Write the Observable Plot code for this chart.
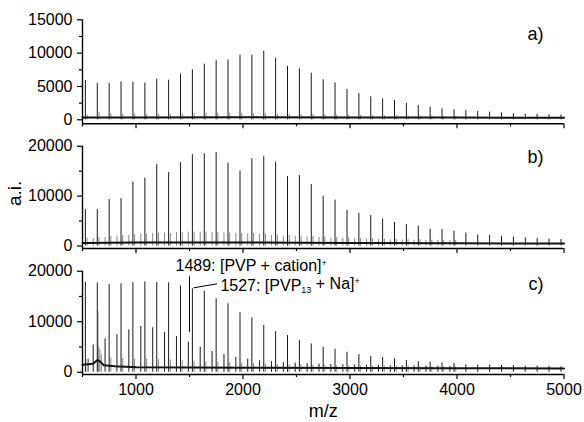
<!DOCTYPE html>
<html><head><meta charset="utf-8">
<script src="https://cdn.jsdelivr.net/npm/d3@7"></script>
<script src="https://cdn.jsdelivr.net/npm/@observablehq/plot@0.6"></script>
<style>
body{margin:0;background:#fff;}
#chart{position:relative;width:584px;height:422px;overflow:hidden;background:#fff;}
#chart svg{position:absolute;left:0;}
</style></head><body><div id="chart"></div>
<script>
// ---- data ----
const mzMain = [527, 638, 749, 860, 971, 1083, 1194, 1305, 1416, 1527, 1638, 1749, 1860, 1972, 2083, 2194, 2305, 2416, 2527, 2638, 2749, 2860, 2972, 3083, 3194, 3305, 3416, 3527, 3638, 3749, 3860, 3972, 4083, 4194, 4305, 4416, 4527, 4638, 4749, 4860, 4972];
const intensityA = [5900, 5450, 5450, 5700, 5650, 5500, 6100, 5950, 6850, 7500, 8350, 8850, 8950, 9700, 9700, 10300, 9200, 8000, 7650, 7000, 6000, 5550, 4550, 3950, 3450, 3150, 2900, 2450, 2150, 1900, 1650, 1500, 1400, 1250, 1150, 1050, 900, 850, 800, 750, 700];
const intensityB = [7300, 7300, 9300, 9500, 12800, 13600, 16300, 14700, 16700, 18300, 18500, 18700, 16600, 15000, 17500, 17900, 16800, 13900, 14100, 12300, 10000, 9200, 7150, 6550, 6100, 5400, 4700, 4300, 4000, 3350, 3300, 2950, 2600, 2200, 2100, 1950, 1800, 1600, 1500, 1350, 1300];
const intensityC = [17800, 17700, 17350, 17500, 17700, 17900, 17750, 17700, 17050, 16500, 16050, 14550, 13550, 11800, 10750, 9250, 8050, 7250, 6300, 5600, 4950, 4550, 3950, 3500, 3150, 2900, 2650, 2300, 2100, 2000, 1800, 1700, 1500, 1450, 1400, 1350, 1300, 1200, 1200, 1150, 1100];

// satellite series (+16)
const satMz = [543, 654, 765, 876, 987, 1099, 1210, 1321, 1432, 1543, 1654, 1765, 1876, 1988, 2099, 2210, 2321, 2432, 2543, 2654, 2765, 2876, 2988, 3099, 3210, 3321, 3432, 3543, 3654, 3765, 3876, 3988];
const satIntA = [700, 1100, 900, 800, 850, 800, 800, 850, 900, 950, 1000, 1000, 950, 950, 900, 900, 850, 800, 800, 800, 750, 700, 700, 650, 600, 600, 600, 550, 550, 550, 500, 500];
const satIntB = [1600, 1700, 1900, 2100, 2300, 2400, 2600, 2500, 2700, 2800, 2800, 2700, 2600, 2500, 2500, 2400, 2200, 2100, 2000, 1900, 1800, 1700, 1600, 1500, 1450, 1400, 1350, 1300, 1250, 1200, 1150, 1100];
const satIntC = [2600, 3000, 2800, 2700, 2600, 2600, 2500, 2400, 2300, 2200, 2100, 2000, 1900, 1800, 1700, 1600, 1550, 1500, 1450, 1400, 1350, 1300, 1300, 1250, 1200, 1200, 1150, 1150, 1100, 1100, 1050, 1050];

// second series (1489: [PVP + cation]+)
const mzSecond = [600, 711, 822, 933, 1045, 1156, 1267, 1378, 1489, 1600, 1711, 1822, 1933, 2044, 2155, 2266, 2377, 2488, 2599, 2710, 2821, 2933, 3044, 3155, 3266, 3377, 3488, 3599, 3710, 3821, 3933];
const secondIntB = [1500, 1700, 2000, 2200, 2400, 2500, 2600, 2700, 2800, 2800, 2700, 2600, 2500, 2400, 2300, 2100, 2000, 1900, 1800, 1700, 1600, 1500, 1450, 1400, 1300, 1250, 1200, 1150, 1100, 1100, 1050];
const secondIntC = [5400, 6600, 7450, 8400, 9050, 8800, 7900, 7050, 5950, 4950, 4100, 3500, 2950, 2600, 2300, 2100, 1900, 1800, 1700, 1600, 1550, 1500, 1450, 1400, 1350, 1300, 1300, 1250, 1200, 1200, 1150];

// extra low-mass peaks in c
const extraMzC = [556, 645, 652, 662, 676];
const extraIntC = [2600, 12000, 5000, 4500, 3500];

// baselines
const baseMzA = [500, 1000, 2000, 3000, 4000, 5000];
const baseIntA = [350, 350, 400, 350, 350, 300];
const baseMzB = [500, 1000, 2000, 3000, 4000, 5000];
const baseIntB = [600, 700, 700, 600, 550, 500];
const baseMzC = [500, 600, 640, 660, 700, 800, 1000, 2000, 3000, 4000, 5000];
const baseIntC = [1500, 1700, 2400, 2200, 1400, 1200, 1000, 900, 850, 800, 750];

// axes
const xDomain = [500, 5000];
const xMajor = [1000, 2000, 3000, 4000, 5000];
const xMinor = [500, 1500, 2500, 3500, 4500];
const yMajorA = [0, 5000, 10000, 15000];
const yMinorA = [2500, 7500, 12500];
const yMajorBC = [0, 10000, 20000];
const yMinorBC = [5000, 15000];
const panelLabels = ["a)", "b)", "c)"];

// annotations in c
const annMz = [1489, 1527];
const annText = ["1489: [PVP + cation]+", "1527: [PVP13 + Na]+"];
const leader1 = [{x: 1500, y1: 7900, y2: 18900}];
const leader2 = [{x1: 1537, y1: 16700, x2: 1757, y2: 17500}];

// ---- helpers ----
const zip = (xs, ys) => xs.map((x, k) => ({mz: x, i: ys[k]}));
const FONT = '"Liberation Sans", Arial, Helvetica, sans-serif';
const fmt = d3.format("d");
const none = () => "";

function panel({top, height, marginTop, marginBottom, yDomain, yMajor, yMinor, layers, label, labelDy, xLabels, extra = []}) {
  const marks = [
    ...layers,
    Plot.ruleX([xDomain[0]], {stroke: "#000", strokeWidth: 1.4}),
    Plot.ruleY([yDomain[0]], {stroke: "#000", strokeWidth: 1.4}),
    Plot.axisY(yMajor, {tickSize: 5, tickPadding: 5, tickFormat: fmt, fontSize: 16, label: null, strokeWidth: 1.2}),
    Plot.axisY(yMinor, {tickSize: 3, tickFormat: none, label: null, strokeWidth: 1.2}),
    Plot.axisX(xMajor, {tickSize: 5, tickPadding: 4, tickFormat: xLabels ? fmt : none, fontSize: 16, label: null, strokeWidth: 1.2}),
    Plot.axisX(xMinor, {tickSize: 3, tickFormat: none, label: null, strokeWidth: 1.2}),
    Plot.text([label], {frameAnchor: "top-right", textAnchor: "end", dx: -20.5, dy: labelDy, fontSize: 18, lineAnchor: "middle"}),
    ...extra
  ];
  const svg = Plot.plot({
    width: 584, height,
    marginLeft: 82, marginRight: 20.5, marginTop, marginBottom,
    x: {domain: xDomain},
    y: {domain: yDomain},
    style: {background: "none", overflow: "visible", fontFamily: FONT, fontSize: "16px", color: "#000"},
    marks
  });
  svg.style.top = top + "px";
  svg.style.position = "absolute";
  return svg;
}

function spectrum(base, sats, peaks) {
  return [
    ...sats.map(s => Plot.ruleX(s, {x: "mz", y1: 0, y2: "i", stroke: "#888", strokeWidth: 1})),
    Plot.lineY(base, {x: "mz", y: "i", stroke: "#111", strokeWidth: 2}),
    ...peaks.map(p => Plot.ruleX(p, {x: "mz", y1: 0, y2: "i", stroke: "#1a1a1a", strokeWidth: 1}))
  ];
}

const chart = document.getElementById("chart");

chart.appendChild(panel({
  top: 0, height: 135, marginTop: 19.3, marginBottom: 11.7,
  yDomain: [-600, 15000], yMajor: yMajorA, yMinor: yMinorA,
  layers: spectrum(zip(baseMzA, baseIntA), [zip(satMz, satIntA)], [zip(mzMain, intensityA)]),
  label: panelLabels[0], labelDy: 14, xLabels: false
}));

chart.appendChild(panel({
  top: 135, height: 125, marginTop: 10.7, marginBottom: 12,
  yDomain: [-500, 20000], yMajor: yMajorBC, yMinor: yMinorBC,
  layers: spectrum(zip(baseMzB, baseIntB), [zip(satMz, satIntB), zip(mzSecond, secondIntB)], [zip(mzMain, intensityB)]),
  label: panelLabels[1], labelDy: 11, xLabels: false,
  extra: [
    Plot.text(["a.i."], {frameAnchor: "left", dx: -68, dy: -4, rotate: -90, fontSize: 19, textAnchor: "middle", lineAnchor: "middle"})
  ]
}));

const svgC = panel({
  top: 260, height: 162, marginTop: 10.7, marginBottom: 48,
  yDomain: [-450, 20000], yMajor: yMajorBC, yMinor: yMinorBC,
  layers: spectrum(zip(baseMzC, baseIntC), [zip(satMz, satIntC), zip(extraMzC, extraIntC)], [zip(mzMain, intensityC), zip(mzSecond, secondIntC)]),
  label: panelLabels[2], labelDy: 12.6, xLabels: true,
  extra: [
    Plot.text(["m/z"], {frameAnchor: "bottom", dy: 37, fontSize: 18, lineAnchor: "middle"}),
    Plot.ruleX(leader1, {x: "x", y1: "y1", y2: "y2", stroke: "#000", strokeWidth: 1}),
    Plot.link(leader2, {x1: "x1", y1: "y1", x2: "x2", y2: "y2", stroke: "#000", strokeWidth: 1}),
    Plot.text([0], {x: annMz[0], text: () => annText[0], frameAnchor: "top", textAnchor: "start", lineAnchor: "middle", dx: -12.8, dy: -5.7, fontSize: 16}),
    Plot.text([1], {x: annMz[1], text: () => annText[1], frameAnchor: "top", textAnchor: "start", lineAnchor: "middle", dx: 28, dy: 14.3, fontSize: 16})
  ]
});
chart.appendChild(svgC);

// rich text: superscript / subscript
d3.select(svgC).selectAll("text").each(function() {
  const t = this.textContent;
  const sel = d3.select(this);
  if (t === annText[0]) {
    this.textContent = "";
    sel.append("tspan").text("1489: [PVP + cation]");
    sel.append("tspan").attr("font-size", 9).attr("dy", "-0.55em").text("+");
  } else if (t === annText[1]) {
    this.textContent = "";
    sel.append("tspan").text("1527: [PVP");
    sel.append("tspan").attr("font-size", 9).attr("dy", "0.3em").text("13");
    sel.append("tspan").attr("dy", "-0.3em").text(" + Na]");
    sel.append("tspan").attr("font-size", 9).attr("dy", "-0.55em").text("+");
  }
});
</script></body></html>
